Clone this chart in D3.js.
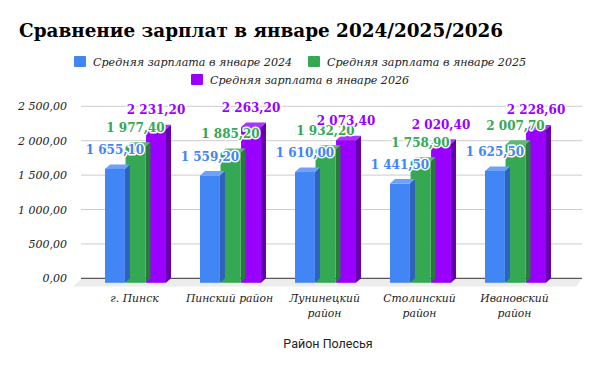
<!DOCTYPE html>
<html>
<head>
<meta charset="UTF-8">
<title>Сравнение зарплат</title>
<script src="https://cdn.jsdelivr.net/npm/d3@7"></script>
<style>
  body { margin: 0; background: #fff; }
</style>
</head>
<body>
<script>
// данные графика
var districts = ["г. Пинск", "Пинский район", "Лунинецкий район", "Столинский район", "Ивановский район"];
var seriesNames = ["Средняя зарплата в январе 2024", "Средняя зарплата в январе 2025", "Средняя зарплата в январе 2026"];
var salary2024 = [1655.10, 1559.20, 1610.00, 1441.50, 1625.50];
var salary2025 = [1977.40, 1885.20, 1932.20, 1758.90, 2007.70];
var salary2026 = [2231.20, 2263.20, 2073.40, 2020.40, 2228.60];
var yTicks = [0, 500, 1000, 1500, 2000, 2500];

var colors = ["#4285f4", "#34a853", "#9900ff"];
var topColors = ["#6fa2f7", "#5dba75", "#ad33ff"];
var sideColors = ["#2f62bd", "#257a3c", "#6600aa"];

var SERIF = "'DejaVu Serif', serif";
var W = 600, H = 371;
var dx = 5, dy = 4.5; // глубина 3D

var svg = d3.select("body").append("svg")
  .attr("width", W).attr("height", H);

var values = [salary2024, salary2025, salary2026];
var fmt = function (v) {
  var s = v.toFixed(2).split(".");
  return s[0].replace(/\B(?=(\d{3})+(?!\d))/g, " ") + "," + s[1];
};

// заголовок
svg.append("text")
  .attr("x", 19).attr("y", 37)
  .attr("font-family", SERIF)
  .style("font-size", "18.4px").style("font-weight", "bold")
  .text("Сравнение зарплат в январе 2024/2025/2026");

// легенда
var legendPos = [{x: 74, y: 56}, {x: 308, y: 56}, {x: 191, y: 74}];
var legend = svg.append("g").selectAll("g")
  .data(seriesNames).enter().append("g")
  .attr("transform", function (d, i) { return "translate(" + legendPos[i].x + "," + legendPos[i].y + ")"; });
legend.append("rect").attr("width", 12).attr("height", 11).attr("rx", 1)
  .attr("fill", function (d, i) { return colors[i]; });
legend.append("text").attr("x", 19).attr("y", 10)
  .attr("font-family", SERIF)
  .style("font-size", "11.1px").style("font-style", "italic").attr("fill", "#222")
  .text(function (d) { return d; });

// шкалы
var y = d3.scaleLinear().domain([0, 2500]).range([278.3, 106.3]);
var x0 = d3.scaleBand().domain(districts).range([88, 563])
  .paddingInner(0.358).paddingOuter(0.179);
var x1 = d3.scaleBand().domain([0, 1, 2]).range([0, x0.bandwidth()]).paddingInner(0.03);

// пол
svg.append("path")
  .attr("d", "M82,278.3 L582,278.3 L576,286.5 L73,286.5 Z")
  .attr("fill", "#ececec");

// сетка
svg.append("g").selectAll("line")
  .data(yTicks).enter().append("line")
  .attr("x1", 81).attr("x2", 582)
  .attr("y1", function (d) { return y(d); }).attr("y2", function (d) { return y(d); })
  .attr("stroke", function (d) { return d === 0 ? "#333" : "#ccc"; })
  .attr("stroke-width", 1);

svg.append("g").selectAll("text")
  .data(yTicks).enter().append("text")
  .attr("x", 67).attr("y", function (d) { return y(d) + 4; })
  .attr("text-anchor", "end")
  .attr("font-family", SERIF)
  .style("font-size", "11px").style("font-style", "italic").attr("fill", "#222")
  .text(fmt);

// столбцы
var bars = [];
districts.forEach(function (c, i) {
  values.forEach(function (s, k) { bars.push({cat: c, k: k, v: s[i]}); });
});
bars.sort(function (a, b) { return b.k - a.k; });

var g = svg.append("g");
var base = y(0) + dy;
bars.forEach(function (b) {
  var xl = x0(b.cat) + x1(b.k), w = x1.bandwidth();
  var yt = y(b.v) + dy;
  // боковая грань
  g.append("path")
    .attr("d", "M" + (xl + w) + "," + yt + " L" + (xl + w + dx) + "," + (yt - dy) +
      " L" + (xl + w + dx) + "," + (base - dy) + " L" + (xl + w) + "," + base + " Z")
    .attr("fill", sideColors[b.k]);
  // верхняя грань
  g.append("path")
    .attr("d", "M" + xl + "," + yt + " L" + (xl + dx) + "," + (yt - dy) +
      " L" + (xl + w + dx) + "," + (yt - dy) + " L" + (xl + w) + "," + yt + " Z")
    .attr("fill", topColors[b.k]);
  // передняя грань
  g.append("rect")
    .attr("x", xl).attr("y", yt).attr("width", w).attr("height", base - yt)
    .attr("fill", colors[b.k]);
});

// подписи значений
var labels = svg.append("g");
bars.slice().reverse().forEach(function (b) {
  labels.append("text")
    .attr("x", x0(b.cat) + x1(b.k) + x1.bandwidth() / 2)
    .attr("y", y(b.v) + dy - 15)
    .attr("text-anchor", "middle")
    .attr("font-family", SERIF)
    .style("font-size", "12px").style("font-weight", "bold")
    .attr("fill", colors[b.k])
    .attr("stroke", "#fff").attr("stroke-width", 3).attr("paint-order", "stroke")
    .attr("stroke-linejoin", "round")
    .text(fmt(b.v));
});

// подписи категорий
var catLines = {
  "г. Пинск": ["г. Пинск"],
  "Пинский район": ["Пинский район"],
  "Лунинецкий район": ["Лунинецкий", "район"],
  "Столинский район": ["Столинский", "район"],
  "Ивановский район": ["Ивановский", "район"]
};
districts.forEach(function (c) {
  var cx = x0(c) + x0.bandwidth() / 2 - 1;
  var t = svg.append("text")
    .attr("x", cx).attr("y", 302)
    .attr("text-anchor", "middle")
    .attr("font-family", SERIF)
    .style("font-size", "10.8px").style("font-style", "italic").attr("fill", "#222");
  catLines[c].forEach(function (line, j) {
    t.append("tspan").attr("x", cx).attr("dy", j ? 15 : 0).text(line);
  });
});

svg.append("text")
  .attr("x", 328).attr("y", 348).attr("text-anchor", "middle")
  .attr("font-family", "Roboto, 'Liberation Sans', sans-serif").style("font-size", "12.5px")
  .attr("fill", "#222")
  .text("Район Полесья");
</script>
</body>
</html>
